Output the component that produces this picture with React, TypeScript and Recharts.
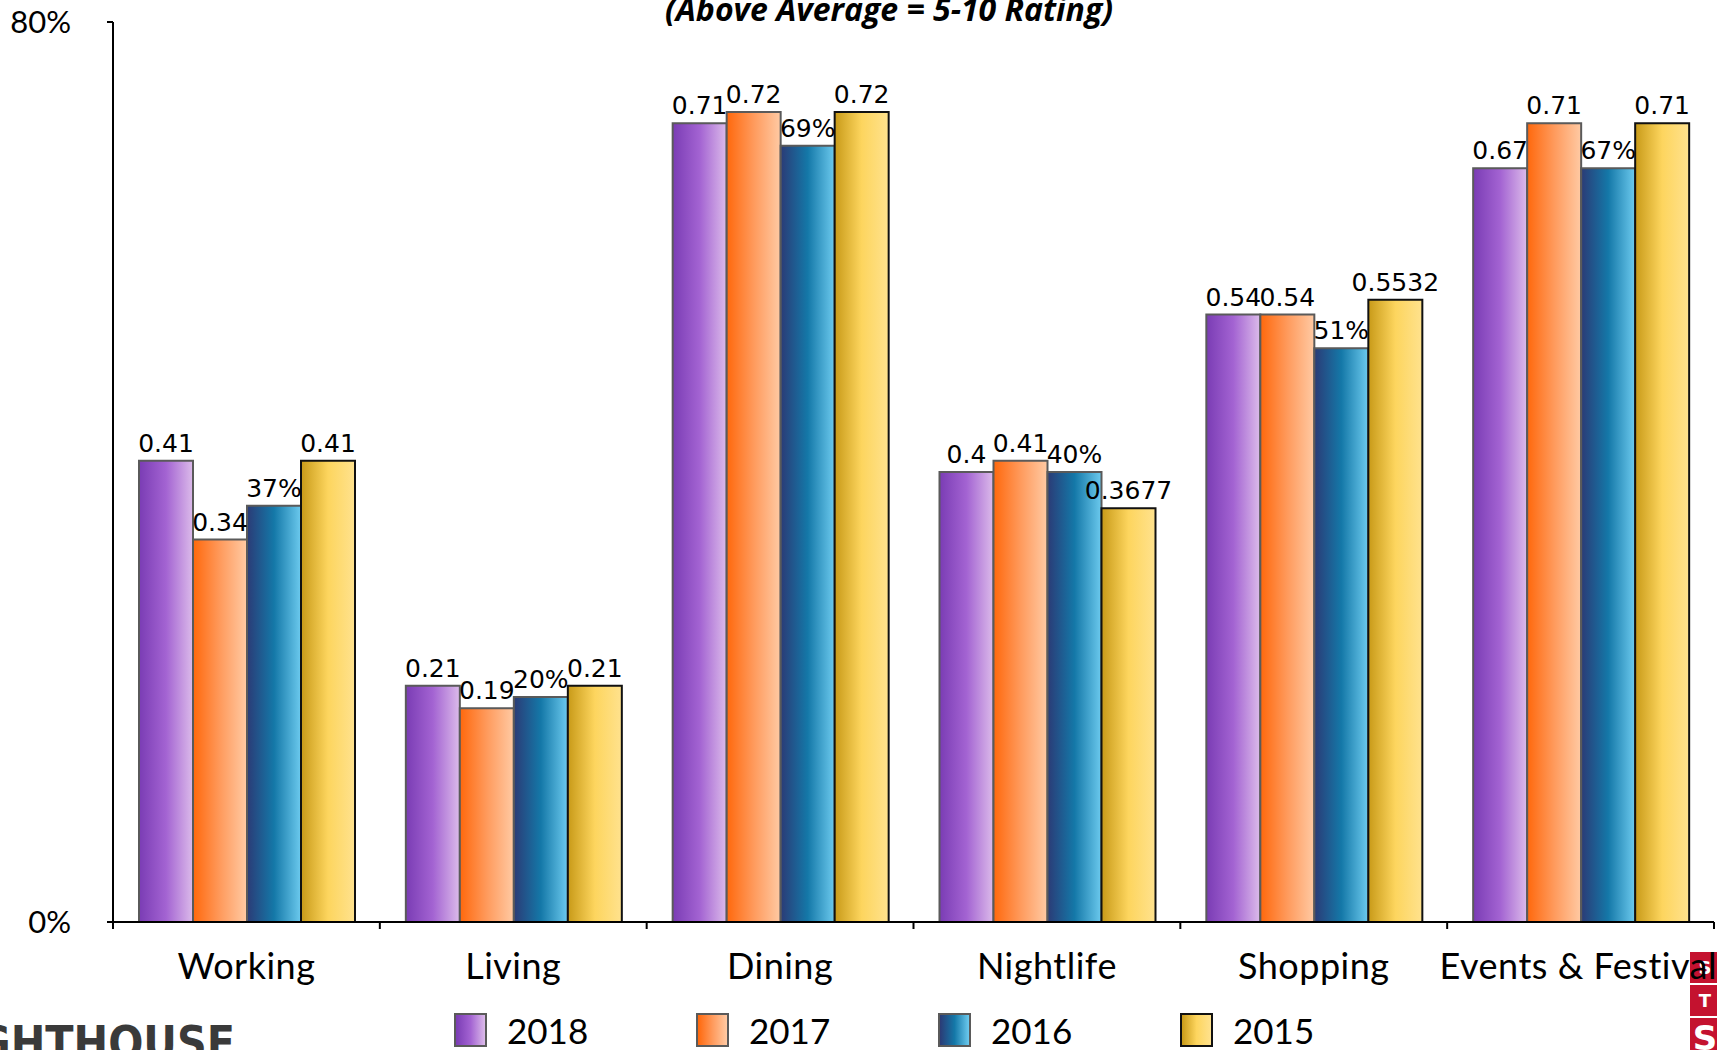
import { BarChart, Bar, XAxis, YAxis, Legend, LabelList } from "recharts";

const categories = ["Working", "Living", "Dining", "Nightlife", "Shopping", "Events & Festival"];
const years = ["2018", "2017", "2016", "2015"];
const values2018 = [0.41, 0.21, 0.71, 0.4, 0.54, 0.67];
const values2017 = [0.34, 0.19, 0.72, 0.41, 0.54, 0.71];
const values2016 = [0.37, 0.2, 0.69, 0.4, 0.51, 0.67];
const values2015 = [0.41, 0.21, 0.72, 0.3677, 0.5532, 0.71];
const yTicks = [0, 0.8];

const W = 1717;
const H = 1050;
const LEFT = 113;
const RIGHT = 3;
const BAND = (W - LEFT - RIGHT) / categories.length;
const TICK = 7;

const chartData = categories.map((name, i) => ({
  name,
  y2018: values2018[i],
  y2017: values2017[i],
  y2016: values2016[i],
  y2015: values2015[i],
}));

const seriesStyle: Record<string, { grad: string; stroke: string; stops: string[] }> = {
  "2018": { grad: "g2018", stroke: "#5a5a5a", stops: ["#7a3cb4", "#a363d2", "#dcbbea"] },
  "2017": { grad: "g2017", stroke: "#5a5a5a", stops: ["#ff680c", "#ff9a5c", "#ffcaa4"] },
  "2016": { grad: "g2016", stroke: "#5a5a5a", stops: ["#2b3b76", "#1478a8", "#6ccaee"] },
  "2015": { grad: "g2015", stroke: "#111111", stops: ["#c89a18", "#fdd55e", "#ffe28e"] },
};

const labelFont = { fontFamily: "DejaVu Sans", fontSize: 25, fill: "#000" };

function CategoryTick(props: any) {
  const { x, y, payload, index } = props;
  const half = payload && payload.offset ? payload.offset : BAND / 2;
  const last = index === categories.length - 1;
  // the last label is pushed left so that it ends at the chart's right edge
  return (
    <g>
      <line x1={x - half} x2={x - half} y1={y - TICK} y2={y} stroke="#000" strokeWidth={2} />
      {last && <line x1={x + half} x2={x + half} y1={y - TICK} y2={y} stroke="#000" strokeWidth={2} />}
      <text
        x={last ? x + half + RIGHT : x}
        y={y}
        dy={50}
        textAnchor={last ? "end" : "middle"}
        fontFamily="Lato"
        fontSize={36}
        letterSpacing={0.5}
        fill="#000"
      >
        {payload.value}
      </text>
    </g>
  );
}

function LegendContent() {
  return (
    <div style={{ display: "flex", fontFamily: "Lato", fontSize: 35, color: "#000" }}>
      {years.map((y) => {
        const s = seriesStyle[y];
        return (
          <div key={y} style={{ display: "flex", alignItems: "center", width: 242 }}>
            <span
              style={{
                display: "inline-block",
                width: 29,
                height: 30,
                border: `2px solid ${s.stroke}`,
                background: `linear-gradient(to right, ${s.stops[0]}, ${s.stops[1]} 50%, ${s.stops[2]})`,
                marginRight: 20,
              }}
            />
            <span style={{ lineHeight: "34px" }}>{y}</span>
          </div>
        );
      })}
    </div>
  );
}

export default function App() {
  return (
    <div style={{ position: "fixed", top: 0, left: 0, width: W, height: H, overflow: "hidden", background: "#fff" }}>
      <div
        style={{
          position: "absolute",
          top: -13,
          left: 0,
          width: 1778,
          textAlign: "center",
          fontFamily: "Open Sans",
          fontWeight: 700,
          fontStyle: "italic",
          fontSize: 32,
          lineHeight: "44px",
          color: "#000",
          zIndex: 2,
        }}
      >
        (Above Average = 5-10 Rating)
      </div>
      <div
        style={{
          position: "absolute",
          left: -140,
          top: 1018,
          width: 375,
          textAlign: "right",
          fontFamily: "DejaVu Sans Condensed, DejaVu Sans",
          fontWeight: 700,
          fontSize: 46,
          color: "#3a3a3a",
          lineHeight: "50px",
        }}
      >
        LIGHTHOUSE
      </div>
      {[
        { top: 952, h: 31, t: "S" },
        { top: 985, h: 31, t: "T" },
        { top: 1018, h: 40, t: "S" },
      ].map((b, i) => (
        <div
          key={i}
          style={{
            position: "absolute",
            left: 1690,
            top: b.top,
            width: 30,
            height: b.h,
            background: "#c4122f",
            color: "#fff",
            fontFamily: "DejaVu Sans",
            fontWeight: 700,
            fontSize: i === 2 ? 34 : 18,
            lineHeight: `${b.h}px`,
            textAlign: "center",
            overflow: "hidden",
          }}
        >
          {b.t}
        </div>
      ))}
      <div style={{ position: "absolute", top: 0, left: 0 }}>
        <BarChart
          width={W}
          height={H}
          data={chartData}
          margin={{ top: 22, right: RIGHT, left: 0, bottom: 0 }}
          barCategoryGap={26}
          barGap={0}
        >
          <defs>
            {years.map((y) => {
              const s = seriesStyle[y];
              return (
                <linearGradient key={y} id={s.grad} x1="0" y1="0" x2="1" y2="0">
                  <stop offset="0%" stopColor={s.stops[0]} />
                  <stop offset="50%" stopColor={s.stops[1]} />
                  <stop offset="100%" stopColor={s.stops[2]} />
                </linearGradient>
              );
            })}
          </defs>
          <XAxis
            dataKey="name"
            height={128}
            interval={0}
            tickLine={false}
            tickSize={TICK}
            tickMargin={0}
            axisLine={{ stroke: "#000", strokeWidth: 2 }}
            tick={<CategoryTick />}
          />
          <YAxis
            width={LEFT}
            domain={[0, 0.8]}
            ticks={yTicks}
            tickSize={6}
            tickMargin={36}
            tickFormatter={(v: number) => `${Math.round(v * 100)}%`}
            tick={{ fontFamily: "Lato", fontSize: 31, fill: "#000" }}
            tickLine={{ stroke: "#000", strokeWidth: 2 }}
            axisLine={{ stroke: "#000", strokeWidth: 2 }}
          />
          <Legend
            verticalAlign="middle"
            content={<LegendContent />}
            wrapperStyle={{ top: 1013, left: 454, width: 1000 }}
          />
          {years.map((y) => {
            const s = seriesStyle[y];
            return (
              <Bar
                key={y}
                dataKey={`y${y}`}
                name={y}
                fill={`url(#${s.grad})`}
                stroke={s.stroke}
                strokeWidth={2}
                isAnimationActive={false}
              >
                <LabelList
                  dataKey={`y${y}`}
                  position="top"
                  offset={9}
                  style={labelFont}
                  formatter={(v: any) => (y === "2016" ? `${Math.round(Number(v) * 100)}%` : String(v))}
                />
              </Bar>
            );
          })}
        </BarChart>
      </div>
    </div>
  );
}
